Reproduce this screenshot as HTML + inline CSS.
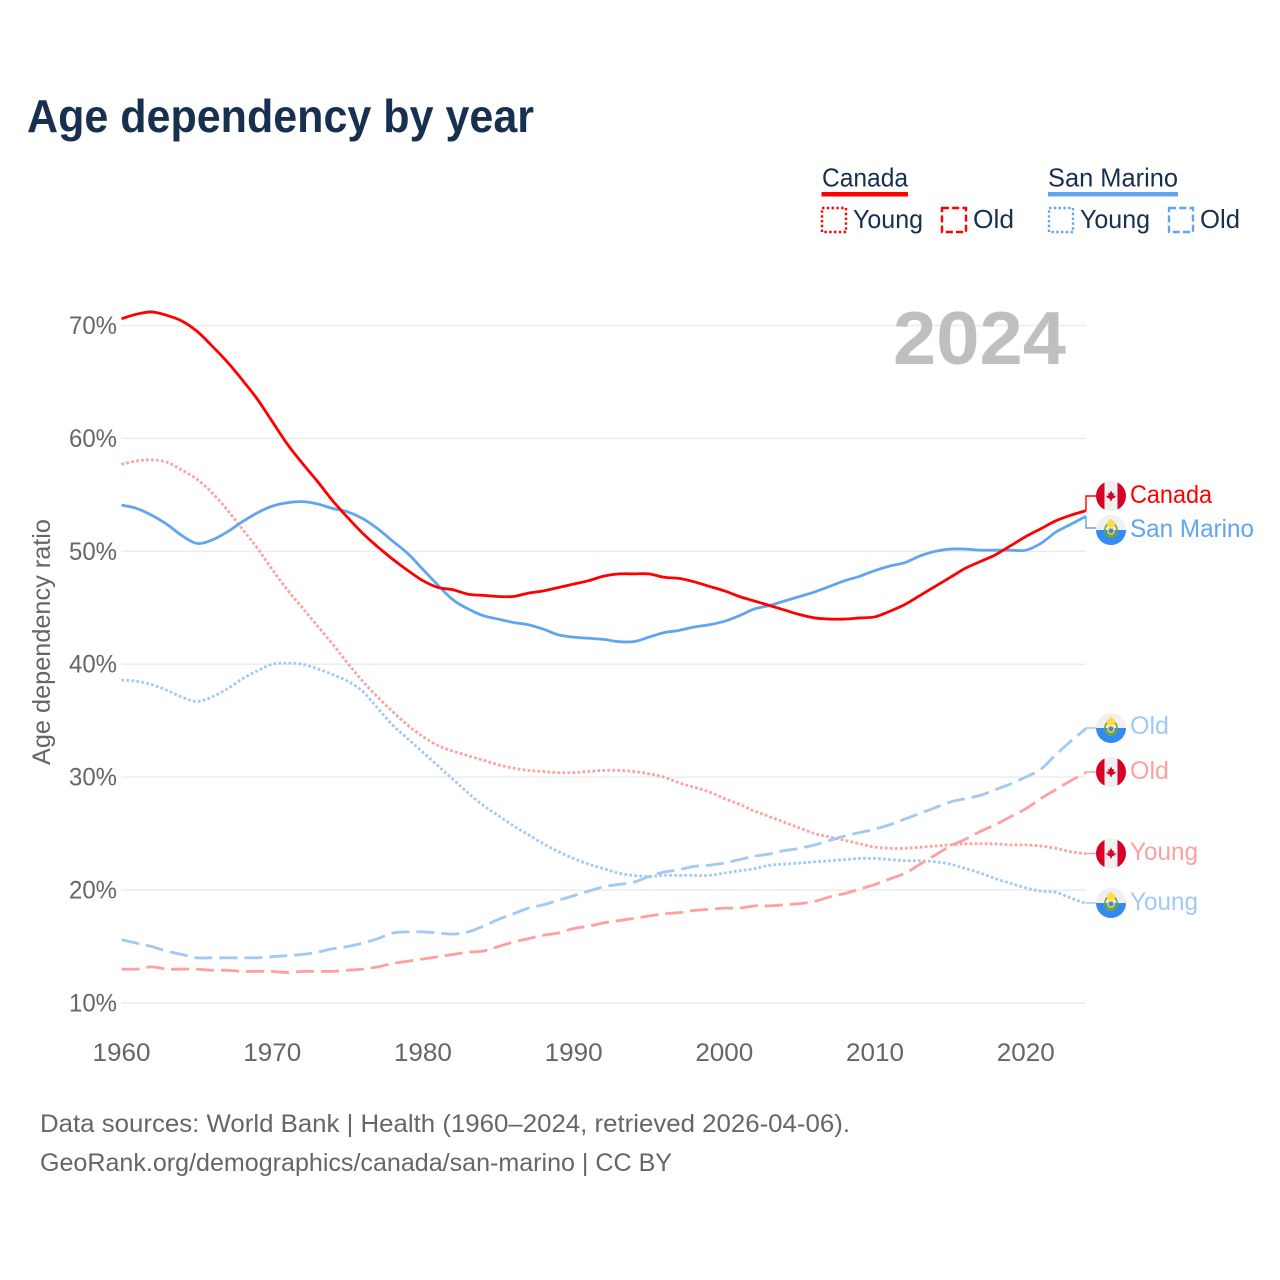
<!DOCTYPE html>
<html lang="en">
<head>
<meta charset="utf-8">
<title>Age dependency by year</title>
<style>
html,body{margin:0;padding:0;background:#fff;}
svg{display:block;font-family:"Liberation Sans",sans-serif;}
text{font-family:"Liberation Sans",sans-serif;}
</style>
</head>
<body>
<svg id="chart" xmlns="http://www.w3.org/2000/svg" width="1280" height="1280" viewBox="0 0 1280 1280">
  <rect x="0" y="0" width="1280" height="1280" fill="#fff"/>
  <text x="27" y="132" font-size="46" font-weight="700" fill="#18304f" textLength="507" lengthAdjust="spacingAndGlyphs">Age dependency by year</text>

  <g font-size="26" fill="#18304f">
    <text x="822" y="186.5" textLength="86" lengthAdjust="spacingAndGlyphs">Canada</text>
    <rect x="821.5" y="192" width="86.5" height="4.5" fill="#ff0000"/>
    <rect x="822" y="208" width="24" height="24" fill="none" stroke="#ff0000" stroke-width="2.4" stroke-dasharray="2.4 2.4"/>
    <text x="853" y="228" textLength="70" lengthAdjust="spacingAndGlyphs">Young</text>
    <rect x="942" y="208" width="24" height="24" fill="none" stroke="#ff0000" stroke-width="2.4" stroke-dasharray="7 3.2"/>
    <text x="973" y="228" textLength="41" lengthAdjust="spacingAndGlyphs">Old</text>
    <text x="1048" y="186.5" textLength="130" lengthAdjust="spacingAndGlyphs">San Marino</text>
    <rect x="1048" y="192" width="130" height="4.5" fill="#60a5f0"/>
    <rect x="1049" y="208" width="24" height="24" fill="none" stroke="#60a5f0" stroke-width="2.4" stroke-dasharray="2.4 2.4"/>
    <text x="1080" y="228" textLength="70" lengthAdjust="spacingAndGlyphs">Young</text>
    <rect x="1169" y="208" width="24" height="24" fill="none" stroke="#60a5f0" stroke-width="2.4" stroke-dasharray="7 3.2"/>
    <text x="1200" y="228" textLength="40" lengthAdjust="spacingAndGlyphs">Old</text>
  </g>

  <text transform="translate(50,642) rotate(-90)" text-anchor="middle" font-size="25" fill="#666" textLength="246" lengthAdjust="spacingAndGlyphs">Age dependency ratio</text>

  <g id="grid"></g>
  <g id="yticks"></g>
  <g id="xticks"></g>

  <text x="893" y="364" font-size="75" font-weight="700" fill="#bfbfbf" textLength="173" lengthAdjust="spacingAndGlyphs">2024</text>

  <g id="series"></g>
  <g id="connectors"></g>

  <g transform="translate(1111,496)">
    <circle r="15" fill="#f0f0f0"/><path d="M-6.5,-13.5 A15,15 0 0 0 -6.5,13.5 Z M6.5,-13.5 A15,15 0 0 1 6.5,13.5 Z" fill="#d80027"/>
    <path d="M0,-5.5 L1.5,-2.5 L3,-3 L2.5,0 L5,-0.5 L4,1.5 L1,3 L0.5,5 L-0.5,5 L-1,3 L-4,1.5 L-5,-0.5 L-2.5,0 L-3,-3 L-1.5,-2.5 Z" fill="#d80027"/>
  </g>
  <g transform="translate(1111,530)">
    <circle r="15" fill="#f0f0f0"/><path d="M-15,0 A15,15 0 0 0 15,0 Z" fill="#338af3"/>
    <path d="M-6.5,-2 A6.5,6.5 0 0 0 6.5,-2 L6.5,1 A6.5,7 0 0 1 -6.5,1 Z" fill="#6da544"/><path d="M-6,0 A6,7 0 0 0 6,0 A6,7 0 0 0 -6,0 Z" fill="none" stroke="#6da544" stroke-width="1.6"/><circle cy="1" r="3.8" fill="#ffda44"/><circle cy="1" r="2.4" fill="#338af3"/><path d="M-4,-3 L-4,-7.5 L0,-11.5 L4,-7.5 L4,-3 Z" fill="#ffda44"/>
  </g>
  <g transform="translate(1111,728)">
    <circle r="15" fill="#f0f0f0"/><path d="M-15,0 A15,15 0 0 0 15,0 Z" fill="#338af3"/>
    <path d="M-6.5,-2 A6.5,6.5 0 0 0 6.5,-2 L6.5,1 A6.5,7 0 0 1 -6.5,1 Z" fill="#6da544"/><path d="M-6,0 A6,7 0 0 0 6,0 A6,7 0 0 0 -6,0 Z" fill="none" stroke="#6da544" stroke-width="1.6"/><circle cy="1" r="3.8" fill="#ffda44"/><circle cy="1" r="2.4" fill="#338af3"/><path d="M-4,-3 L-4,-7.5 L0,-11.5 L4,-7.5 L4,-3 Z" fill="#ffda44"/>
  </g>
  <g transform="translate(1111,772)">
    <circle r="15" fill="#f0f0f0"/><path d="M-6.5,-13.5 A15,15 0 0 0 -6.5,13.5 Z M6.5,-13.5 A15,15 0 0 1 6.5,13.5 Z" fill="#d80027"/>
    <path d="M0,-5.5 L1.5,-2.5 L3,-3 L2.5,0 L5,-0.5 L4,1.5 L1,3 L0.5,5 L-0.5,5 L-1,3 L-4,1.5 L-5,-0.5 L-2.5,0 L-3,-3 L-1.5,-2.5 Z" fill="#d80027"/>
  </g>
  <g transform="translate(1111,853.5)">
    <circle r="15" fill="#f0f0f0"/><path d="M-6.5,-13.5 A15,15 0 0 0 -6.5,13.5 Z M6.5,-13.5 A15,15 0 0 1 6.5,13.5 Z" fill="#d80027"/>
    <path d="M0,-5.5 L1.5,-2.5 L3,-3 L2.5,0 L5,-0.5 L4,1.5 L1,3 L0.5,5 L-0.5,5 L-1,3 L-4,1.5 L-5,-0.5 L-2.5,0 L-3,-3 L-1.5,-2.5 Z" fill="#d80027"/>
  </g>
  <g transform="translate(1111,903)">
    <circle r="15" fill="#f0f0f0"/><path d="M-15,0 A15,15 0 0 0 15,0 Z" fill="#338af3"/>
    <path d="M-6.5,-2 A6.5,6.5 0 0 0 6.5,-2 L6.5,1 A6.5,7 0 0 1 -6.5,1 Z" fill="#6da544"/><path d="M-6,0 A6,7 0 0 0 6,0 A6,7 0 0 0 -6,0 Z" fill="none" stroke="#6da544" stroke-width="1.6"/><circle cy="1" r="3.8" fill="#ffda44"/><circle cy="1" r="2.4" fill="#338af3"/><path d="M-4,-3 L-4,-7.5 L0,-11.5 L4,-7.5 L4,-3 Z" fill="#ffda44"/>
  </g>

  <g font-size="25">
    <text x="1130" y="503" fill="#ff0000" textLength="82" lengthAdjust="spacingAndGlyphs">Canada</text>
    <text x="1130" y="537" fill="#60a5f0" textLength="124" lengthAdjust="spacingAndGlyphs">San Marino</text>
    <text x="1130" y="734" fill="#a0c9f3" textLength="39" lengthAdjust="spacingAndGlyphs">Old</text>
    <text x="1130" y="779" fill="#ff9f9f" textLength="39" lengthAdjust="spacingAndGlyphs">Old</text>
    <text x="1130" y="860" fill="#ff9f9f" textLength="68" lengthAdjust="spacingAndGlyphs">Young</text>
    <text x="1130" y="910" fill="#a0c9f3" textLength="68" lengthAdjust="spacingAndGlyphs">Young</text>
  </g>

  <g font-size="25" fill="#666">
    <text x="40" y="1132" textLength="810" lengthAdjust="spacingAndGlyphs">Data sources: World Bank | Health (1960–2024, retrieved 2026-04-06).</text>
    <text x="40" y="1171" textLength="632" lengthAdjust="spacingAndGlyphs">GeoRank.org/demographics/canada/san-marino | CC BY</text>
  </g>
</svg>

<script>
const firstYear = 1960;
const lastYear = 2024;
const xTickLabels = [1960, 1970, 1980, 1990, 2000, 2010, 2020];
const yTickLabels = [10, 20, 30, 40, 50, 60, 70];

const canadaTotal = [70.6,71.0,71.2,70.9,70.4,69.5,68.2,66.8,65.2,63.5,61.5,59.5,57.8,56.2,54.5,53.0,51.6,50.4,49.3,48.3,47.4,46.8,46.6,46.2,46.1,46.0,46.0,46.3,46.5,46.8,47.1,47.4,47.8,48.0,48.0,48.0,47.7,47.6,47.3,46.9,46.5,46.0,45.6,45.2,44.8,44.4,44.1,44.0,44.0,44.1,44.2,44.7,45.3,46.1,46.9,47.7,48.5,49.1,49.7,50.5,51.3,52.0,52.7,53.2,53.6];
const sanMarinoTotal = [54.1,53.8,53.2,52.4,51.4,50.7,51.0,51.7,52.6,53.4,54.0,54.3,54.4,54.2,53.8,53.5,52.9,52.0,50.9,49.8,48.4,47.0,45.7,44.9,44.3,44.0,43.7,43.5,43.1,42.6,42.4,42.3,42.2,42.0,42.0,42.4,42.8,43.0,43.3,43.5,43.8,44.3,44.9,45.2,45.6,46.0,46.4,46.9,47.4,47.8,48.3,48.7,49.0,49.6,50.0,50.2,50.2,50.1,50.1,50.1,50.1,50.7,51.7,52.4,53.1];
const canadaYoung = [57.7,58.0,58.1,57.9,57.2,56.4,55.2,53.7,52.0,50.3,48.4,46.6,45.0,43.4,41.8,40.1,38.5,37.1,35.8,34.6,33.6,32.8,32.3,31.9,31.5,31.1,30.8,30.6,30.5,30.4,30.4,30.5,30.6,30.6,30.5,30.3,30.0,29.5,29.1,28.7,28.1,27.6,27.0,26.5,26.0,25.5,25.0,24.7,24.4,24.1,23.8,23.7,23.7,23.8,23.9,24.0,24.1,24.1,24.1,24.0,24.0,23.9,23.7,23.4,23.2];
const sanMarinoYoung = [38.6,38.5,38.2,37.7,37.1,36.7,37.1,37.8,38.7,39.4,40.0,40.1,40.0,39.6,39.1,38.5,37.6,36.1,34.6,33.4,32.2,31.0,29.8,28.6,27.5,26.6,25.7,24.9,24.1,23.4,22.8,22.3,21.9,21.5,21.3,21.2,21.3,21.3,21.3,21.3,21.5,21.7,21.9,22.2,22.3,22.4,22.5,22.6,22.7,22.8,22.8,22.7,22.6,22.6,22.5,22.3,21.9,21.5,21.0,20.6,20.2,19.9,19.8,19.3,18.8];
const canadaOld = [13.0,13.0,13.2,13.0,13.0,13.0,12.9,12.9,12.8,12.8,12.8,12.7,12.8,12.8,12.8,12.9,13.0,13.2,13.5,13.7,13.9,14.1,14.3,14.5,14.6,15.0,15.4,15.7,16.0,16.2,16.6,16.8,17.1,17.3,17.5,17.7,17.9,18.0,18.2,18.3,18.4,18.4,18.6,18.6,18.7,18.8,19.0,19.4,19.7,20.1,20.5,21.0,21.5,22.3,23.1,23.9,24.5,25.2,25.8,26.5,27.2,28.1,28.9,29.7,30.4];
const sanMarinoOld = [15.6,15.3,15.0,14.6,14.3,14.0,14.0,14.0,14.0,14.0,14.1,14.2,14.3,14.5,14.8,15.0,15.3,15.7,16.2,16.3,16.3,16.2,16.1,16.3,16.8,17.4,17.9,18.4,18.7,19.1,19.5,19.9,20.3,20.5,20.7,21.2,21.6,21.8,22.1,22.2,22.4,22.7,23.0,23.2,23.5,23.7,24.0,24.4,24.8,25.1,25.4,25.8,26.3,26.8,27.3,27.8,28.1,28.4,28.9,29.4,30.0,30.7,32.0,33.2,34.3];

const NS = 'http://www.w3.org/2000/svg';
function xScale(year) { return 121.5 + (year - firstYear) * (1086 - 121.5) / (lastYear - firstYear); }
function yScale(v) { return 1003 - (v - 10) * 11.292; }

const gridGroup = document.getElementById('grid');
const yTickGroup = document.getElementById('yticks');
const xTickGroup = document.getElementById('xticks');
const seriesGroup = document.getElementById('series');
const connectorGroup = document.getElementById('connectors');

yTickLabels.forEach(function (t) {
  const line = document.createElementNS(NS, 'line');
  
  
  line.setAttribute('x1', xScale(firstYear));
  line.setAttribute('x2', xScale(lastYear));
  line.setAttribute('y1', yScale(t));
  line.setAttribute('y2', yScale(t));
  line.setAttribute('stroke', '#ececec');
  line.setAttribute('stroke-width', '1.5');
  gridGroup.appendChild(line);

  const label = document.createElementNS(NS, 'text');
  
  
  label.setAttribute('x', 69);
  label.setAttribute('y', yScale(t) + 8.5);
  label.setAttribute('font-size', '25');
  label.setAttribute('fill', '#666');
  label.setAttribute('textLength', '48');
  label.setAttribute('lengthAdjust', 'spacingAndGlyphs');
  label.textContent = t + '%';
  yTickGroup.appendChild(label);
});

xTickLabels.forEach(function (t) {
  const label = document.createElementNS(NS, 'text');
  
  
  label.setAttribute('x', xScale(t) - 29);
  label.setAttribute('y', 1061);
  label.setAttribute('font-size', '25');
  label.setAttribute('fill', '#666');
  label.setAttribute('textLength', '58');
  label.setAttribute('lengthAdjust', 'spacingAndGlyphs');
  label.textContent = t;
  xTickGroup.appendChild(label);
});

function smoothPath(values) {
  const px = values.map(function (v, i) { return [xScale(firstYear + i), yScale(v)]; });
  let d = 'M' + px[0][0].toFixed(2) + ' ' + px[0][1].toFixed(2);
  for (let i = 0; i < px.length - 1; i++) {
    const p0 = px[Math.max(i - 1, 0)];
    const p1 = px[i];
    const p2 = px[i + 1];
    const p3 = px[Math.min(i + 2, px.length - 1)];
    const c1x = p1[0] + (p2[0] - p0[0]) / 6;
    const c1y = p1[1] + (p2[1] - p0[1]) / 6;
    const c2x = p2[0] - (p3[0] - p1[0]) / 6;
    const c2y = p2[1] - (p3[1] - p1[1]) / 6;
    d += 'C' + c1x.toFixed(2) + ' ' + c1y.toFixed(2) + ' ' + c2x.toFixed(2) + ' ' + c2y.toFixed(2) + ' ' + p2[0].toFixed(2) + ' ' + p2[1].toFixed(2);
  }
  return d;
}

function drawSeries(name, values, color, dash, width, labelY) {
  const line = document.createElementNS(NS, 'path');
  
  
  line.setAttribute('d', smoothPath(values));
  line.setAttribute('fill', 'none');
  line.setAttribute('stroke', color);
  line.setAttribute('stroke-width', width);
  line.setAttribute('stroke-linejoin', 'round');
  if (dash) line.setAttribute('stroke-dasharray', dash);
  seriesGroup.appendChild(line);

  const endX = xScale(lastYear);
  const endY = yScale(values[values.length - 1]);
  const conn = document.createElementNS(NS, 'polyline');
  
  
  conn.setAttribute('points', endX + ',' + endY + ' ' + endX + ',' + labelY + ' 1097,' + labelY);
  conn.setAttribute('fill', 'none');
  conn.setAttribute('stroke', color);
  conn.setAttribute('stroke-width', '1.4');
  connectorGroup.appendChild(conn);
}

drawSeries('canada-young', canadaYoung, '#ff9f9f', '2.7 2.3', '2.8', 853.5);
drawSeries('san-marino-young', sanMarinoYoung, '#a0c9f3', '2.7 2.3', '2.8', 903);
drawSeries('canada-old', canadaOld, '#ff9f9f', '18 7', '2.8', 772);
drawSeries('san-marino-old', sanMarinoOld, '#a0c9f3', '18 7', '2.8', 728);
drawSeries('san-marino-total', sanMarinoTotal, '#60a5f0', '', '2.8', 528);
drawSeries('canada-total', canadaTotal, '#ff0000', '', '2.8', 496);
</script>
</body>
</html>
